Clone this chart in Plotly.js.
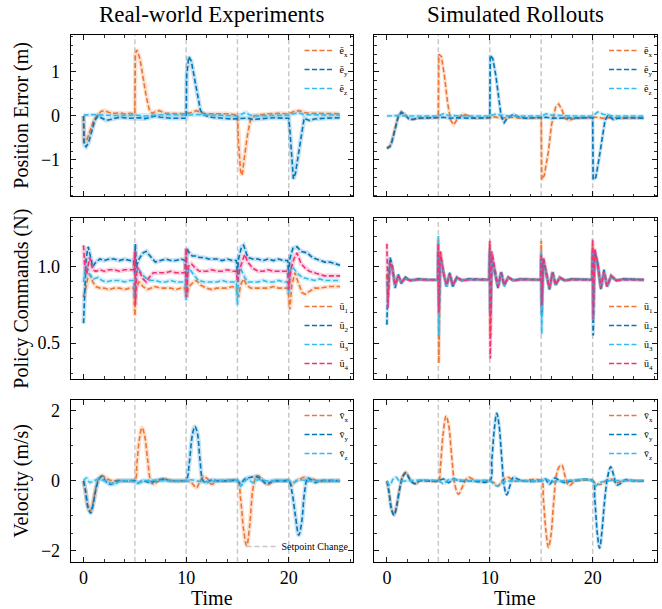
<!DOCTYPE html>
<html>
<head>
<meta charset="utf-8">
<script src="https://cdn.plot.ly/plotly-3.0.1.min.js"></script>
<style>html,body{margin:0;padding:0;background:#fff}#chart{width:662px;height:609px}</style>
</head>
<body>
<div id="chart"></div>
<script>
// ---------- DATA (time [s], value) ----------
const setpoints = [5, 10, 15, 20];

// Position error, real-world
const realEx = [[0,0],[0.05,-0.6],[0.3,-0.55],[0.6,-0.35],[1.0,-0.1],[1.3,0.0],[1.7,0.1],[2.0,0.12],[2.5,0.08],[3.0,0.06],[3.5,0.07],[4.0,0.05],[4.5,0.06],[5.0,0.05],[5.05,1.4],[5.2,1.5],[5.5,1.3],[5.8,0.88],[6.1,0.45],[6.4,0.15],[6.7,0.06],[7.0,0.1],[7.4,0.12],[8.0,0.06],[9.0,0.05],[10.0,0.05],[10.5,0.08],[11.0,0.12],[11.5,0.07],[12.0,0.05],[13.0,0.05],[14.0,0.05],[15.0,0.02],[15.1,-0.6],[15.3,-1.25],[15.45,-1.35],[15.7,-0.9],[16.0,-0.4],[16.3,-0.05],[16.6,0.0],[17.0,0.02],[18.0,0.05],[19.0,0.06],[20.0,0.05],[20.5,0.1],[21.0,0.12],[21.5,0.08],[22.0,0.06],[23.0,0.06],[24.0,0.05],[25.0,0.05]];
const realEy = [[0,0],[0.05,-0.65],[0.25,-0.7],[0.5,-0.6],[0.8,-0.35],[1.1,-0.1],[1.4,0.0],[1.8,-0.05],[2.2,-0.1],[2.8,-0.07],[3.5,-0.03],[4.5,-0.05],[5.0,-0.05],[5.5,-0.04],[6.0,-0.06],[7.0,0.0],[7.5,-0.03],[8.5,-0.05],[9.5,-0.05],[10.0,-0.05],[10.05,0.9],[10.25,1.35],[10.5,1.25],[10.85,0.82],[11.2,0.33],[11.4,0.12],[11.7,0.03],[12.0,0.0],[12.5,-0.03],[13.5,-0.05],[14.5,-0.07],[15.0,-0.06],[15.5,-0.05],[16.0,-0.05],[16.5,-0.08],[17.5,-0.06],[18.5,-0.04],[19.5,-0.05],[20.0,-0.05],[20.1,-0.3],[20.25,-0.9],[20.45,-1.43],[20.65,-1.3],[20.9,-0.95],[21.2,-0.5],[21.5,-0.05],[22.0,-0.1],[22.5,-0.07],[23.5,-0.05],[25.0,-0.04]];
const realEz = [[0,0.02],[1,0.03],[2,0.02],[3,0.01],[5,0.02],[6,0.0],[7,0.02],[8,0.03],[10,0.02],[11,0.03],[13,0.02],[15,0.0],[15.5,0.05],[15.8,0.08],[16.2,0.02],[17,0.0],[18,0.01],[20,0.02],[20.5,0.05],[21,0.07],[21.5,0.03],[23,0.02],[25,0.02]];

// Position error, simulated
const simEx = [[0,-0.72],[0.3,-0.68],[0.5,-0.55],[0.8,-0.3],[1.1,0.0],[1.4,0.1],[1.7,0.05],[2.1,-0.05],[2.5,-0.08],[3,-0.05],[4,-0.04],[5,-0.04],[5.05,1.4],[5.3,1.35],[5.6,0.9],[5.9,0.3],[6.2,-0.1],[6.5,-0.2],[6.9,-0.05],[7.4,0.05],[8,0.0],[8.5,-0.05],[10,-0.04],[10.5,-0.02],[11,-0.05],[12,-0.03],[13,-0.05],[15,-0.04],[15.05,-1.45],[15.3,-1.35],[15.7,-0.8],[16.0,-0.2],[16.4,0.2],[16.7,0.27],[17.0,0.15],[17.3,-0.05],[17.7,-0.1],[18.2,-0.06],[19,-0.04],[20,-0.04],[20.5,-0.03],[21,-0.05],[22,-0.04],[23,-0.05],[25,-0.04]];
const simEy = [[0,-0.74],[0.3,-0.7],[0.5,-0.58],[0.8,-0.32],[1.1,-0.02],[1.4,0.08],[1.7,0.04],[2.1,-0.06],[2.5,-0.08],[3,-0.05],[5,-0.04],[5.5,-0.03],[6,-0.05],[7,-0.04],[8,-0.05],[10,-0.04],[10.05,1.38],[10.3,1.3],[10.6,0.9],[10.9,0.3],[11.1,0.0],[11.4,-0.15],[11.7,-0.05],[12.3,0.04],[12.8,-0.02],[13.5,-0.05],[15,-0.04],[15.5,-0.03],[16,-0.05],[17,-0.05],[20,-0.04],[20.05,-1.45],[20.3,-1.4],[20.6,-1.0],[20.9,-0.5],[21.2,-0.1],[21.5,0.02],[22,-0.08],[22.5,-0.05],[23.5,-0.04],[25,-0.05]];
const simEz = [[0,0.0],[1,0.01],[2,0.0],[5,0.0],[5.5,0.05],[6,0.01],[8,0.0],[10,0.0],[10.5,0.04],[11,0.02],[12,0.0],[15,0.0],[15.5,0.05],[16,0.02],[18,0.0],[20,0.0],[20.5,0.09],[21,0.04],[22,0.0],[25,0.0]];

// Policy commands, real-world
const realU1 = [[0,0.8],[0.2,0.86],[0.4,0.92],[0.6,0.95],[0.9,0.9],[1.2,0.87],[1.6,0.86],[2.0,0.86],[2.5,0.85],[3.0,0.86],[3.5,0.86],[4.0,0.85],[4.5,0.86],[4.9,0.86],[5.0,0.68],[5.1,0.85],[5.4,0.9],[5.8,0.87],[6.2,0.85],[6.6,0.86],[7.0,0.87],[7.5,0.86],[8.0,0.86],[8.5,0.86],[9.0,0.85],[9.5,0.86],[9.9,0.86],[10.0,0.8],[10.3,0.87],[10.7,0.9],[11.0,0.91],[11.4,0.88],[12.0,0.86],[12.5,0.85],[13.0,0.86],[13.5,0.86],[14.0,0.86],[14.5,0.87],[14.9,0.86],[15.0,0.82],[15.1,0.8],[15.3,0.88],[15.6,0.92],[15.9,0.88],[16.3,0.86],[17.0,0.86],[17.5,0.86],[18.0,0.86],[18.5,0.87],[19.0,0.86],[19.5,0.86],[19.9,0.86],[20.0,0.8],[20.1,0.72],[20.3,0.88],[20.6,0.96],[20.9,0.9],[21.3,0.83],[21.6,0.82],[22.0,0.84],[22.5,0.86],[23.0,0.86],[24.0,0.87],[25,0.87]];
const realU2 = [[0,0.63],[0.1,0.85],[0.25,1.05],[0.45,1.13],[0.7,1.06],[0.9,1.0],[1.2,1.03],[1.6,1.05],[2.0,1.04],[2.5,1.05],[3.0,1.05],[3.5,1.04],[4.0,1.05],[4.5,1.04],[4.9,1.04],[5.0,0.95],[5.05,1.15],[5.15,1.0],[5.4,1.05],[5.8,1.09],[6.1,1.1],[6.5,1.07],[7.0,1.03],[7.5,1.04],[8.0,1.05],[8.5,1.04],[9.0,1.04],[9.5,1.05],[9.9,1.04],[10.0,0.9],[10.05,1.12],[10.3,1.09],[10.6,1.07],[11.0,1.07],[11.3,1.06],[11.7,1.06],[12.2,1.05],[13.0,1.05],[13.5,1.04],[14.0,1.05],[14.5,1.04],[14.9,1.04],[15.0,0.95],[15.1,1.05],[15.4,1.13],[15.6,1.14],[16.0,1.06],[16.5,1.05],[17.0,1.05],[17.5,1.04],[18.0,1.05],[18.5,1.04],[19.0,1.05],[19.5,1.04],[19.9,1.04],[20.0,0.93],[20.1,1.05],[20.4,1.12],[20.8,1.13],[21.2,1.1],[21.8,1.09],[22.3,1.06],[23.0,1.04],[23.5,1.03],[24.0,1.03],[24.5,1.02],[25,1.01]];
const realU3 = [[0,0.9],[0.15,0.98],[0.3,1.0],[0.6,0.95],[1.0,0.92],[1.4,0.93],[1.8,0.91],[2.2,0.9],[2.8,0.91],[3.5,0.91],[4.0,0.9],[4.5,0.91],[4.9,0.91],[5.0,0.8],[5.1,0.95],[5.3,0.99],[5.6,0.96],[6.0,0.93],[6.5,0.91],[7.0,0.91],[7.5,0.9],[8.0,0.9],[8.5,0.91],[9.0,0.9],[9.5,0.9],[9.9,0.9],[10.0,0.78],[10.1,0.95],[10.3,0.99],[10.7,0.95],[11.2,0.91],[11.8,0.9],[12.5,0.9],[13.0,0.9],[13.5,0.91],[14.0,0.9],[14.5,0.9],[14.9,0.9],[15.0,0.75],[15.1,0.95],[15.3,0.99],[15.7,0.93],[16.0,0.9],[16.5,0.9],[17.0,0.9],[17.5,0.91],[18.0,0.9],[18.5,0.9],[19.0,0.91],[19.5,0.9],[19.9,0.9],[20.0,0.82],[20.1,0.97],[20.35,1.0],[20.8,0.96],[21.3,0.93],[21.8,0.92],[22.5,0.91],[23.0,0.92],[23.5,0.91],[24.0,0.91],[24.5,0.91],[25,0.91]];
const realU4 = [[0,1.14],[0.1,1.02],[0.3,0.95],[0.6,1.06],[0.9,0.98],[1.2,0.97],[1.6,0.98],[2.0,0.97],[2.5,0.98],[3.0,0.98],[3.5,0.97],[4.0,0.98],[4.5,0.98],[4.9,0.98],[5.0,1.1],[5.05,0.75],[5.2,1.0],[5.5,0.96],[5.8,0.92],[6.1,0.9],[6.4,0.93],[6.8,0.96],[7.3,0.96],[8.0,0.96],[8.5,0.97],[9.0,0.96],[9.5,0.96],[9.9,0.96],[10.0,1.12],[10.05,0.8],[10.2,1.0],[10.5,1.02],[10.9,0.99],[11.3,0.97],[12.0,0.97],[12.5,0.98],[13.0,0.97],[13.5,0.97],[14.0,0.98],[14.5,0.97],[14.9,0.97],[15.0,0.9],[15.2,0.98],[15.5,1.05],[15.7,1.08],[16.0,1.03],[16.5,0.99],[17.0,0.97],[17.5,0.97],[18.0,0.98],[18.5,0.97],[19.0,0.97],[19.5,0.97],[19.9,0.97],[20.0,0.85],[20.2,0.98],[20.5,1.05],[20.8,1.09],[21.2,1.02],[21.6,0.99],[22.0,0.97],[22.5,0.96],[23.0,0.95],[23.5,0.94],[24.0,0.94],[24.5,0.94],[25,0.94]];

// Policy commands, simulated
const simU1 = [[0,0.95],[0.1,0.8],[0.3,1.02],[0.5,1.0],[0.8,0.88],[1.1,0.94],[1.4,0.9],[1.8,0.93],[2.3,0.91],[3,0.92],[4,0.915],[4.95,0.915],[5.0,1.18],[5.05,0.37],[5.2,1.1],[5.5,0.95],[5.8,0.88],[6.1,0.95],[6.4,0.88],[6.8,0.93],[7.3,0.91],[8,0.92],[9.95,0.915],[10.0,1.15],[10.05,0.55],[10.2,1.08],[10.5,0.95],[10.8,0.87],[11.1,0.96],[11.4,0.89],[11.8,0.93],[12.3,0.91],[13,0.92],[14.95,0.915],[15.0,1.17],[15.05,0.7],[15.2,1.05],[15.5,0.95],[15.8,0.86],[16.1,0.96],[16.4,0.89],[16.8,0.93],[17.3,0.91],[18,0.92],[19.95,0.915],[20.0,1.15],[20.05,0.75],[20.2,1.08],[20.5,1.0],[20.8,0.86],[21.1,0.97],[21.4,0.88],[21.8,0.94],[22.3,0.91],[23,0.92],[25,0.915]];
const simU2 = [[0,0.62],[0.1,0.9],[0.3,1.06],[0.5,1.02],[0.8,0.86],[1.1,0.95],[1.4,0.89],[1.8,0.93],[2.3,0.91],[3,0.92],[4,0.915],[4.95,0.915],[5.0,1.1],[5.05,0.75],[5.2,1.05],[5.5,0.96],[5.8,0.87],[6.1,0.96],[6.4,0.87],[6.8,0.93],[7.3,0.91],[8,0.92],[9.95,0.915],[10.0,1.1],[10.05,0.7],[10.2,1.06],[10.5,0.97],[10.8,0.86],[11.1,0.97],[11.4,0.88],[11.8,0.93],[12.3,0.91],[13,0.92],[14.95,0.915],[15.0,1.05],[15.05,0.68],[15.2,1.05],[15.5,0.96],[15.8,0.85],[16.1,0.97],[16.4,0.88],[16.8,0.93],[17.3,0.91],[18,0.92],[19.95,0.915],[20.0,1.1],[20.05,0.55],[20.2,1.1],[20.5,1.02],[20.8,0.85],[21.1,0.98],[21.4,0.87],[21.8,0.94],[22.3,0.91],[23,0.92],[25,0.915]];
const simU3 = [[0,0.9],[0.1,0.85],[0.3,1.0],[0.5,0.98],[0.8,0.88],[1.1,0.93],[1.4,0.9],[1.8,0.92],[2.3,0.91],[3,0.915],[4.95,0.915],[5.0,1.2],[5.05,0.55],[5.2,1.05],[5.5,0.97],[5.8,0.87],[6.1,0.95],[6.4,0.88],[6.8,0.92],[7.3,0.91],[8,0.915],[9.95,0.915],[10.0,1.12],[10.05,0.7],[10.2,1.05],[10.5,0.96],[10.8,0.87],[11.1,0.95],[11.4,0.87],[11.8,0.93],[12.3,0.91],[13,0.915],[14.95,0.915],[15.0,1.1],[15.05,0.56],[15.2,1.03],[15.5,0.95],[15.8,0.86],[16.1,0.95],[16.4,0.88],[16.8,0.92],[17.3,0.91],[18,0.915],[19.95,0.915],[20.0,1.12],[20.05,0.65],[20.2,1.06],[20.5,0.99],[20.8,0.86],[21.1,0.96],[21.4,0.87],[21.8,0.93],[22.3,0.91],[23,0.915],[25,0.915]];
const simU4 = [[0,1.15],[0.1,0.73],[0.3,1.03],[0.5,1.0],[0.8,0.88],[1.1,0.94],[1.4,0.9],[1.8,0.92],[2.3,0.91],[3,0.915],[4.95,0.915],[5.0,1.15],[5.05,0.7],[5.2,1.1],[5.5,0.96],[5.8,0.88],[6.1,0.95],[6.4,0.88],[6.8,0.93],[7.3,0.91],[8,0.915],[9.95,0.915],[10.0,1.17],[10.05,0.4],[10.2,1.1],[10.5,0.97],[10.8,0.87],[11.1,0.96],[11.4,0.88],[11.8,0.93],[12.3,0.91],[13,0.915],[14.95,0.915],[15.0,1.08],[15.05,0.75],[15.2,1.06],[15.5,0.95],[15.8,0.86],[16.1,0.96],[16.4,0.88],[16.8,0.93],[17.3,0.91],[18,0.915],[19.95,0.915],[20.0,1.18],[20.05,0.66],[20.2,1.12],[20.5,1.02],[20.8,0.86],[21.1,0.97],[21.4,0.87],[21.8,0.94],[22.3,0.91],[23,0.915],[25,0.915]];

// Velocity, real-world
const realVx = [[0,0],[0.2,-0.3],[0.45,-0.75],[0.7,-0.85],[0.95,-0.6],[1.2,-0.2],[1.5,0.08],[1.8,0.15],[2.1,0.1],[2.5,0.03],[3,0.0],[3.5,0.02],[4,0.0],[5,0.03],[5.2,0.5],[5.45,1.2],[5.7,1.52],[5.95,1.3],[6.25,0.6],[6.55,0.0],[6.85,-0.1],[7.2,-0.03],[7.8,0.05],[8.3,0.02],[9,0.0],[10,0.0],[10.5,-0.05],[11.0,-0.2],[11.3,-0.05],[11.7,0.12],[12.1,0.05],[12.5,-0.1],[13,0.0],[14,0.0],[15,0.0],[15.3,-0.5],[15.6,-1.4],[15.9,-1.85],[16.2,-1.25],[16.5,-0.25],[16.8,0.1],[17.0,0.15],[17.5,0.0],[18.0,-0.1],[18.5,-0.02],[19.5,0.0],[20,0.0],[20.3,-0.12],[20.7,0.0],[21.1,0.05],[21.5,0.1],[21.9,0.0],[22.3,0.05],[22.8,0.0],[25,0.0]];
const realVy = [[0,0],[0.2,-0.3],[0.45,-0.78],[0.7,-0.92],[0.95,-0.65],[1.2,-0.25],[1.5,0.05],[1.75,0.12],[2.0,0.05],[2.3,-0.05],[2.7,-0.1],[3.1,-0.02],[4,0.0],[5,0.0],[5.3,-0.06],[5.8,0.0],[6.5,-0.05],[7.2,0.02],[7.8,0.05],[8.5,0.0],[9.5,0.0],[10,0.02],[10.3,0.5],[10.6,1.3],[10.85,1.55],[11.1,1.35],[11.35,0.6],[11.65,0.0],[12.0,-0.05],[12.5,0.03],[13,0.0],[14,0.0],[15,0.0],[15.3,-0.08],[15.7,0.05],[16.3,0.1],[16.8,0.12],[17.3,0.05],[17.8,-0.08],[18.5,0.0],[19.5,0.0],[20,0.0],[20.3,-0.3],[20.65,-1.0],[20.97,-1.55],[21.25,-1.2],[21.55,-0.3],[21.85,0.08],[22.2,0.03],[22.6,-0.05],[23,0.0],[25,0.0]];
const realVz = [[0,0],[0.3,0.08],[0.6,-0.05],[1.0,0.0],[1.5,0.05],[2.0,0.0],[2.5,-0.05],[3.0,-0.1],[3.5,-0.02],[4.5,0.0],[5.3,-0.05],[6,0.0],[7,0.02],[8,0.0],[10,0.0],[10.5,0.03],[11,0.0],[12,-0.03],[13,0.0],[15,0.0],[15.3,-0.15],[15.6,-0.05],[16.0,0.05],[16.5,-0.05],[17,0.03],[18,0.0],[20,0.0],[20.4,-0.05],[21,0.03],[22,0.0],[25,0.0]];

// Velocity, simulated
const simVx = [[0,0],[0.2,-0.3],[0.45,-0.8],[0.7,-0.97],[0.95,-0.7],[1.25,-0.2],[1.55,0.15],[1.85,0.25],[2.15,0.1],[2.5,-0.05],[2.8,-0.08],[3.2,0.0],[4,0.0],[5,0.0],[5.2,0.4],[5.45,1.3],[5.75,1.85],[6.0,1.6],[6.3,0.7],[6.6,-0.1],[6.95,-0.38],[7.3,-0.2],[7.7,0.05],[8.0,0.1],[8.5,0.02],[9,0.0],[10,0.0],[10.4,-0.05],[10.8,-0.15],[11.2,0.0],[11.8,0.1],[12.3,0.0],[13,0.0],[15,0.0],[15.2,-0.5],[15.45,-1.4],[15.7,-1.9],[15.95,-1.55],[16.2,-0.65],[16.5,0.2],[16.75,0.4],[17.0,0.45],[17.35,0.1],[17.7,-0.14],[18.1,-0.05],[18.5,0.0],[20,0.0],[20.3,-0.08],[20.8,-0.1],[21.3,0.0],[21.8,0.05],[22.3,-0.05],[23,0.0],[25,0.0]];
const simVy = [[0,0],[0.2,-0.32],[0.45,-0.82],[0.7,-0.98],[0.95,-0.72],[1.25,-0.22],[1.55,0.12],[1.85,0.22],[2.15,0.08],[2.5,-0.05],[2.8,-0.08],[3.2,0.0],[4,0.0],[5,0.0],[5.5,0.05],[6,-0.05],[6.5,0.05],[7,0.0],[8,0.0],[10,0.0],[10.2,0.6],[10.45,1.5],[10.68,1.93],[10.9,1.6],[11.15,0.7],[11.4,-0.15],[11.65,-0.4],[11.95,-0.15],[12.3,0.1],[12.7,0.05],[13.2,0.0],[15,0.0],[15.4,0.05],[15.8,-0.1],[16.3,0.08],[16.8,0.0],[17.3,-0.05],[18,0.0],[20,0.0],[20.2,-0.5],[20.45,-1.5],[20.67,-1.92],[20.9,-1.45],[21.15,-0.6],[21.45,0.1],[21.75,0.4],[22.05,0.15],[22.35,-0.12],[22.7,-0.08],[23.2,0.03],[24,0.0],[25,0.0]];
const simVz = [[0,0],[0.3,-0.12],[0.6,0.05],[0.9,0.1],[1.2,0.0],[2,0.0],[3,0.02],[5,0.0],[5.5,-0.08],[6,0.03],[8,0.0],[10,0.0],[10.4,-0.1],[10.8,-0.15],[11.2,-0.05],[12,0.0],[15,0.0],[15.5,0.05],[16,-0.03],[17,0.0],[20,0.0],[20.3,-0.15],[20.7,-0.05],[21.5,0.0],[25,0.0]];

// Legend labels
const posLabels = ['ē<sub>x</sub>', 'ē<sub>y</sub>', 'ē<sub>z</sub>'];
const cmdLabels = ['ū<sub>1</sub>', 'ū<sub>2</sub>', 'ū<sub>3</sub>', 'ū<sub>4</sub>'];
const velLabels = ['v\u0304<sub>x</sub>', 'v\u0304<sub>y</sub>', 'v\u0304<sub>z</sub>'];

// ---------- STYLE ----------
const C = ['#EE7733', '#0077BB', '#33BBEE', '#EE3377'];
const CA = ['rgba(238,119,51,0.22)', 'rgba(0,119,187,0.22)', 'rgba(51,187,238,0.22)', 'rgba(238,51,119,0.22)'];
const FONT = 'Liberation Serif, Times New Roman, serif';
const yRanges = [[-1.825, 1.84], [0.266, 1.316], [-2.31, 2.31]];
const yDtick = [1, 0.5, 2];
const yMinor = [0.2, 0.1, 0.5];
const xRange = [-1.25, 26.25];
const colX = [[0.1068, 0.5331], [0.5650, 0.9924]];
const rowY = [[0.6777, 0.9425], [0.3777, 0.6415], [0.0777, 0.3432]];

const traces = [];
function ax(i) { return i === 1 ? '' : String(i); }

// setpoint lines first (below data)
for (let r = 0; r < 3; r++) {
  for (let c = 0; c < 2; c++) {
    const i = r * 2 + c + 1;
    const xs = [], ys = [];
    setpoints.forEach(s => { xs.push(s, s, null); ys.push(yRanges[r][0], yRanges[r][1], null); });
    const showLeg = (r === 2 && c === 0);
    traces.push({x: xs, y: ys, xaxis: 'x' + ax(i), yaxis: 'y' + ax(i), mode: 'lines',
      line: {color: 'rgba(190,190,190,0.85)', width: 1.5, dash: '5px,3px'},
      name: 'Setpoint Change', showlegend: showLeg, legend: 'legend7', hoverinfo: 'skip'});
  }
}

function addSeries(pairs, ci, i, legendId, name, shape, bandW) {
  const x = pairs.map(p => p[0]), y = pairs.map(p => p[1]);
  traces.push({x, y, xaxis: 'x' + ax(i), yaxis: 'y' + ax(i), mode: 'lines',
    line: {color: CA[ci], width: bandW, shape: shape}, showlegend: false, hoverinfo: 'skip'});
  traces.push({x, y, xaxis: 'x' + ax(i), yaxis: 'y' + ax(i), mode: 'lines',
    line: {color: C[ci], width: 1.6, dash: '5px,2.5px', shape: shape},
    name: name, legend: legendId, showlegend: true});
}

const panels = [
  {i: 1, leg: 'legend', series: [realEx, realEy, realEz], labels: posLabels, shape: 'linear', bw: 4.5},
  {i: 2, leg: 'legend2', series: [simEx, simEy, simEz], labels: posLabels, shape: 'linear', bw: 3.5},
  {i: 3, leg: 'legend3', series: [realU1, realU2, realU3, realU4], labels: cmdLabels, shape: 'linear', bw: 4.5},
  {i: 4, leg: 'legend4', series: [simU1, simU2, simU3, simU4], labels: cmdLabels, shape: 'linear', bw: 3.5},
  {i: 5, leg: 'legend5', series: [realVx, realVy, realVz], labels: velLabels, shape: 'spline', bw: 4.5},
  {i: 6, leg: 'legend6', series: [simVx, simVy, simVz], labels: velLabels, shape: 'spline', bw: 3.5}
];
panels.forEach(p => p.series.forEach((s, k) => addSeries(s, k, p.i, p.leg, p.labels[k], p.shape, p.bw)));

const layout = {
  width: 662, height: 609, margin: {l: 0, r: 0, t: 0, b: 0},
  paper_bgcolor: '#fff', plot_bgcolor: '#fff',
  font: {family: FONT, color: '#000', size: 17},
  showlegend: true, annotations: []
};

for (let r = 0; r < 3; r++) {
  for (let c = 0; c < 2; c++) {
    const i = r * 2 + c + 1;
    layout['xaxis' + ax(i)] = {
      domain: colX[c], anchor: 'y' + ax(i), range: xRange, tick0: 0, dtick: 10,
      ticks: 'inside', ticklen: 5, tickwidth: 0.9, tickcolor: '#000',
      minor: {dtick: 2, tick0: 0, ticks: 'inside', ticklen: 2.5, tickwidth: 0.8, tickcolor: '#000'},
      showline: true, linecolor: '#000', linewidth: 1, mirror: 'allticks',
      showgrid: false, zeroline: false, showticklabels: r === 2,
      tickfont: {family: FONT, size: 18, color: '#000'}
    };
    layout['yaxis' + ax(i)] = {
      domain: rowY[r], anchor: 'x' + ax(i), range: yRanges[r], tick0: 0, dtick: yDtick[r],
      tickformat: r === 1 ? '.1f' : '',
      ticks: 'inside', ticklen: 5, tickwidth: 0.9, tickcolor: '#000',
      minor: {dtick: yMinor[r], tick0: 0, ticks: 'inside', ticklen: 2.5, tickwidth: 0.8, tickcolor: '#000'},
      showline: true, linecolor: '#000', linewidth: 1, mirror: 'allticks',
      showgrid: false, zeroline: false, showticklabels: c === 0, ticklabelstandoff: 6,
      tickfont: {family: FONT, size: 18, color: '#000'}
    };
  }
}

// legends
const legBase = {bgcolor: 'rgba(0,0,0,0)', borderwidth: 0, font: {family: FONT, size: 10, color: '#000'},
  tracegroupgap: 0, itemwidth: 30, traceorder: 'normal'};
function leg(x, y, xa, ya) { return Object.assign({}, legBase, {x: x, y: y, xanchor: xa, yanchor: ya}); }
layout.legend  = leg(0.534, 1 - 36 / 609, 'right', 'top');
layout.legend2 = leg(0.994, 1 - 36 / 609, 'right', 'top');
layout.legend3 = leg(0.534, 1 - 378 / 609, 'right', 'bottom');
layout.legend4 = leg(0.994, 1 - 378 / 609, 'right', 'bottom');
layout.legend5 = leg(0.534, 1 - 401 / 609, 'right', 'top');
layout.legend6 = leg(0.994, 1 - 401 / 609, 'right', 'top');
layout.legend7 = leg(0.534, 1 - 561 / 609, 'right', 'bottom');

// titles and axis labels
function ann(text, x, y, size, angle) {
  layout.annotations.push({text: text, x: x, y: y, xref: 'paper', yref: 'paper', showarrow: false,
    xanchor: 'center', yanchor: 'middle', textangle: angle || 0, font: {family: FONT, size: size, color: '#000'}});
}
ann('Real-world Experiments', (colX[0][0] + colX[0][1]) / 2, 1 - 15 / 609, 23);
ann('Simulated Rollouts', (colX[1][0] + colX[1][1]) / 2, 1 - 15 / 609, 23);
ann('Position Error (m)', 22 / 662, (rowY[0][0] + rowY[0][1]) / 2, 20, -90);
ann('Policy Commands (N)', 22 / 662, (rowY[1][0] + rowY[1][1]) / 2, 20, -90);
ann('Velocity (m/s)', 22 / 662, (rowY[2][0] + rowY[2][1]) / 2, 20, -90);
ann('Time', (colX[0][0] + colX[0][1]) / 2, 1 - 598 / 609, 20);
ann('Time', (colX[1][0] + colX[1][1]) / 2, 1 - 598 / 609, 20);

Plotly.newPlot('chart', traces, layout, {staticPlot: true, displayModeBar: false});
</script>
</body>
</html>
